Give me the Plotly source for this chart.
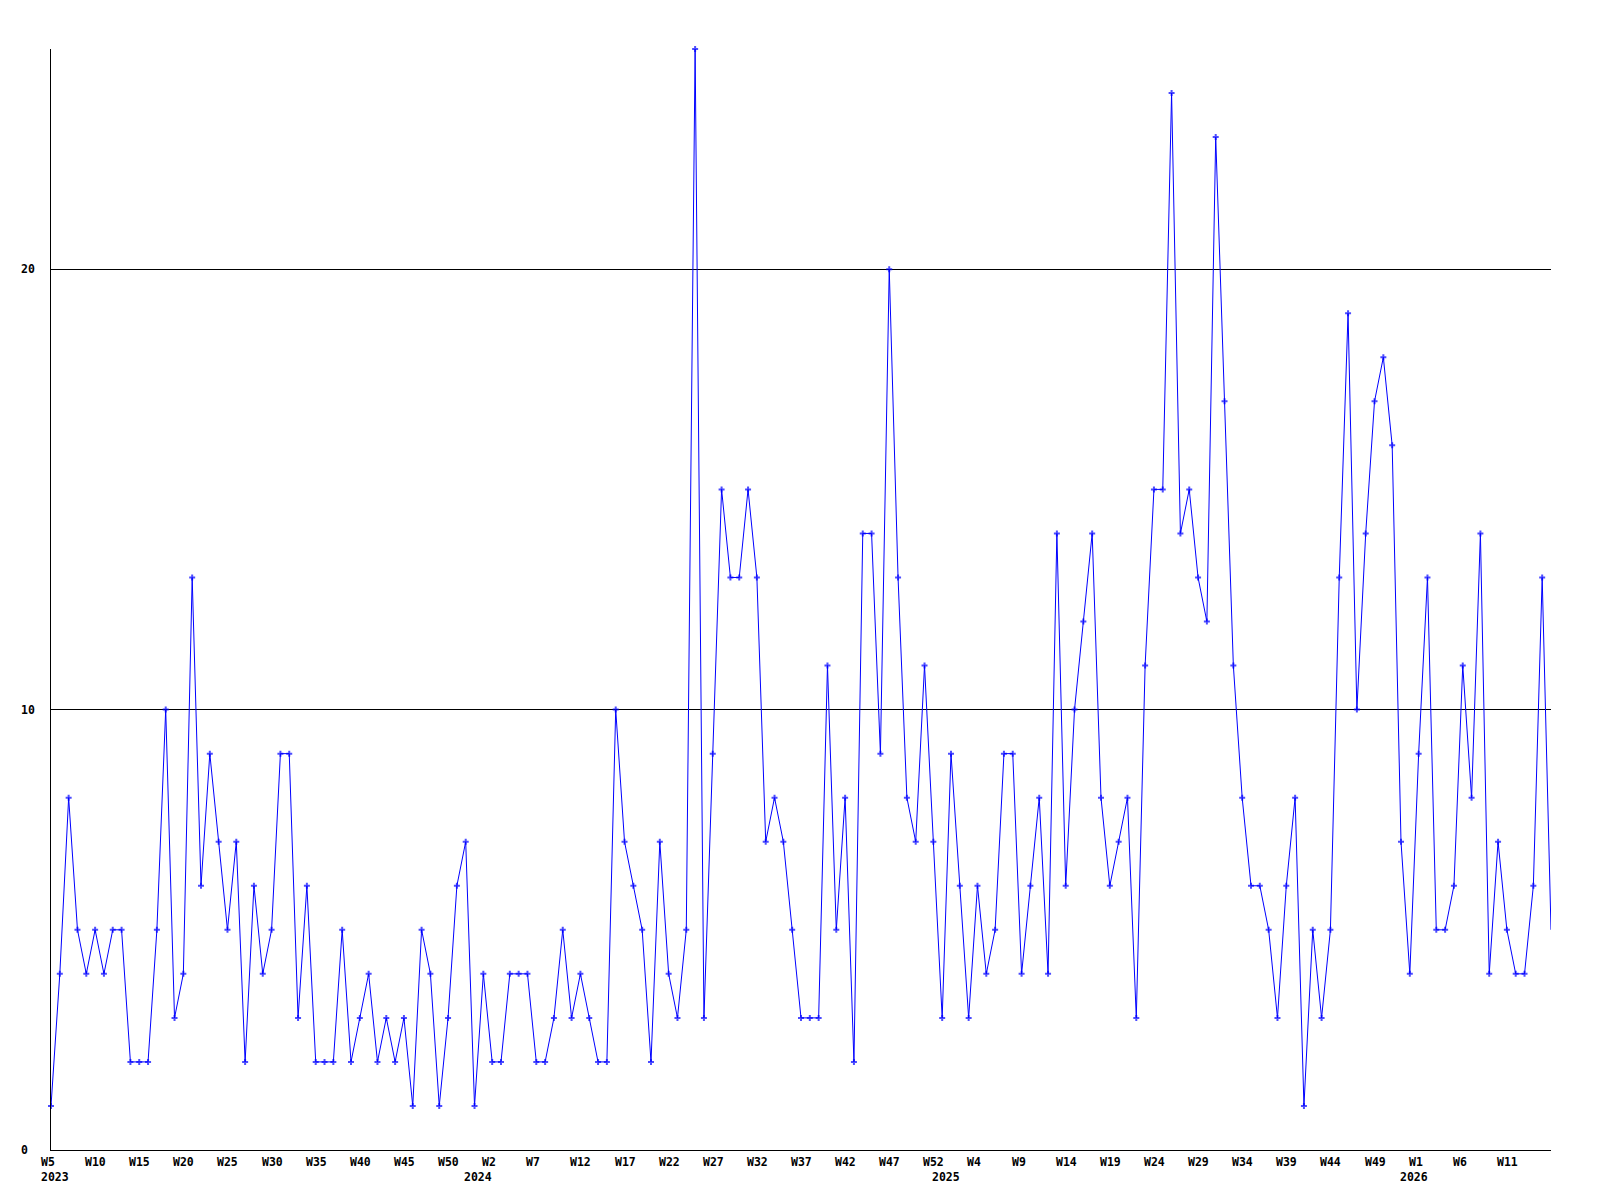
import plotly.graph_objects as go

values = [1, 4, 8, 5, 4, 5, 4, 5, 5, 2,
          2, 2, 5, 10, 3, 4, 13, 6, 9, 7,
          5, 7, 2, 6, 4, 5, 9, 9, 3, 6,
          2, 2, 2, 5, 2, 3, 4, 2, 3, 2,
          3, 1, 5, 4, 1, 3, 6, 7, 1, 4,
          2, 2, 4, 4, 4, 2, 2, 3, 5, 3,
          4, 3, 2, 2, 10, 7, 6, 5, 2, 7,
          4, 3, 5, 25, 3, 9, 15, 13, 13, 15,
          13, 7, 8, 7, 5, 3, 3, 3, 11, 5,
          8, 2, 14, 14, 9, 20, 13, 8, 7, 11,
          7, 3, 9, 6, 3, 6, 4, 5, 9, 9,
          4, 6, 8, 4, 14, 6, 10, 12, 14, 8,
          6, 7, 8, 3, 11, 15, 15, 24, 14, 15,
          13, 12, 23, 17, 11, 8, 6, 6, 5, 3,
          6, 8, 1, 5, 3, 5, 13, 19, 10, 14,
          17, 18, 16, 7, 4, 9, 13, 5, 5, 6,
          11, 8, 14, 4, 7, 5, 4, 4, 6, 13,
          5]

tick_positions = list(range(0, 170, 5))
tick_labels = ["W5", "W10", "W15", "W20", "W25", "W30", "W35", "W40", "W45", "W50",
               "W2", "W7", "W12", "W17", "W22", "W27", "W32", "W37", "W42", "W47",
               "W52", "W4", "W9", "W14", "W19", "W24", "W29", "W34", "W39", "W44",
               "W49", "W1", "W6", "W11"]
# year labels sit at the first week of each year (first one clamped to chart start)
year_positions = [0, 49, 102, 155]
year_labels = ["2023", "2024", "2025", "2026"]

y_ticks = [0, 10, 20]

x = list(range(len(values)))
blue = "#0000FF"
font_family = "DejaVu Sans Mono"
fsize = 11.5
marker_sizes = [5] * (len(values) - 1) + [0]

fig = go.Figure()
fig.add_trace(go.Scatter(
    x=x, y=values, mode="lines+markers",
    line=dict(color=blue, width=1),
    marker=dict(symbol="cross", size=marker_sizes, color=blue, line=dict(width=0)),
    cliponaxis=False, hoverinfo="x+y",
))

annotations = []
for p, t in zip(tick_positions, tick_labels):
    annotations.append(dict(x=p, y=0, xref="x", yref="y", text="<b>" + t + "</b>",
                            showarrow=False, xanchor="left", yanchor="top",
                            xshift=-12, yshift=-3,
                            font=dict(family=font_family, size=fsize, color="black")))
for i, (p, t) in enumerate(zip(year_positions, year_labels)):
    annotations.append(dict(x=p, y=0, xref="x", yref="y", text="<b>" + t + "</b>",
                            showarrow=False, xanchor="left", yanchor="top",
                            xshift=-12 if i == 0 else -21, yshift=-18,
                            font=dict(family=font_family, size=fsize, color="black")))
for v in y_ticks:
    annotations.append(dict(x=0, y=v, xref="paper", yref="y", text="<b>" + str(v) + "</b>",
                            showarrow=False, xanchor="left", yanchor="middle",
                            xshift=-32,
                            font=dict(family=font_family, size=fsize, color="black")))

fig.update_layout(
    width=1600, height=1200,
    margin=dict(l=43, r=57, t=41, b=58),
    paper_bgcolor="white", plot_bgcolor="white",
    showlegend=False,
    annotations=annotations,
    xaxis=dict(range=[0, len(values) - 1], showgrid=False, zeroline=False,
               showline=True, linecolor="black", linewidth=1,
               tickvals=tick_positions, showticklabels=False, ticks=""),
    yaxis=dict(range=[0, 25], tickvals=y_ticks, showticklabels=False,
               showgrid=True, gridcolor="black", gridwidth=1,
               zeroline=False, showline=True, linecolor="black", linewidth=1, ticks=""),
)

fig.write_html("out.html")
